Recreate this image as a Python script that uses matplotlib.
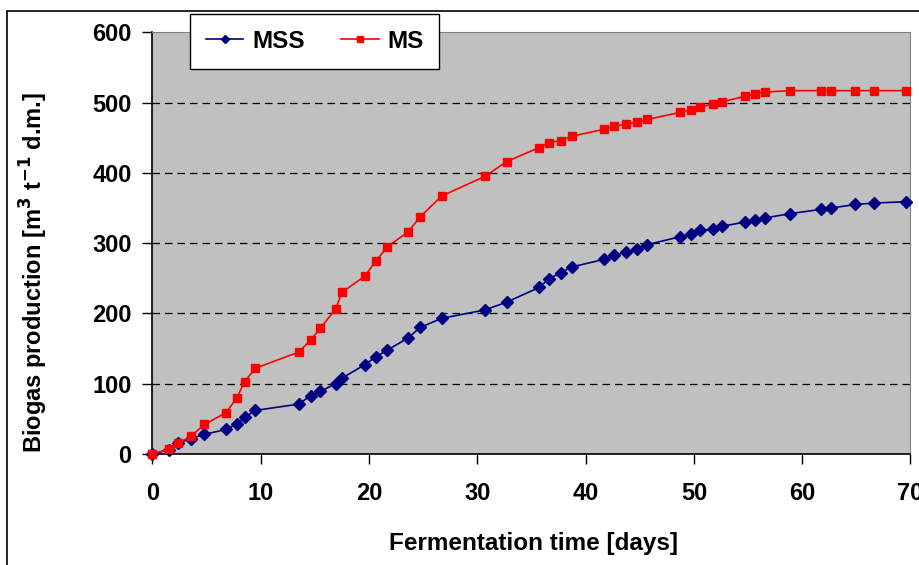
import matplotlib.pyplot as plt
from matplotlib.patches import Rectangle
from matplotlib.lines import Line2D

plt.rcParams['font.family'] = ['Liberation Sans', 'DejaVu Sans']
plt.rcParams['font.weight'] = 'bold'

# fermentation time [days]
days = [0, 1.5, 2.4, 3.6, 4.8, 6.8, 7.8, 8.5, 9.5, 13.5, 14.6, 15.5, 16.9, 17.5,
        19.6, 20.6, 21.7, 23.6, 24.7, 26.7, 30.7, 32.7, 35.7, 36.6, 37.7, 38.7,
        41.7, 42.6, 43.7, 44.7, 45.7, 48.7, 49.7, 50.6, 51.8, 52.6, 54.7, 55.6,
        56.6, 58.9, 61.7, 62.7, 64.9, 66.6, 69.6]

# biogas production [m3 t-1 d.m.]
mss = [0, 6, 16, 22, 28, 35, 43, 52, 62, 71, 83, 89, 100, 108,
       127, 138, 148, 165, 180, 193, 205, 216, 237, 249, 258, 266,
       277, 283, 287, 291, 298, 309, 313, 318, 320, 324, 330, 333,
       336, 342, 348, 350, 355, 357, 359]
ms = [0, 7, 15, 26, 42, 59, 80, 103, 122, 145, 162, 179, 206, 230,
      253, 274, 295, 316, 337, 367, 395, 416, 436, 443, 446, 452,
      462, 466, 469, 472, 476, 486, 490, 494, 498, 501, 509, 512,
      515, 517, 517, 517, 517, 517, 517]

x_ticks = [0, 10, 20, 30, 40, 50, 60, 70]
y_ticks = [0, 100, 200, 300, 400, 500, 600]

fig = plt.figure(figsize=(9.2, 5.65), dpi=100)
# outer chart border (cut off at right and bottom like the original)
fig.patches.append(Rectangle((7.5 / 920, -0.05), 1.1, 1 - 11 / 565 + 0.05,
                             transform=fig.transFigure, fill=False,
                             edgecolor='black', linewidth=1.2))

ax = fig.add_axes([152.5 / 920, 1 - 454 / 565, 758 / 920, 421.7 / 565])
ax.set_facecolor('#c0c0c0')

ax.plot(days, mss, '-D', color='#000080', markersize=6, linewidth=1.2,
        label='MSS', clip_on=False, zorder=3)
ax.plot(days, ms, '-s', color='#ff0000', markersize=6, linewidth=1.2,
        label='MS', clip_on=False, zorder=4)

ax.set_xlim(0, 70)
ax.set_ylim(0, 600)
ax.set_xticks(x_ticks)
ax.set_yticks(y_ticks)
for v in y_ticks[1:-1]:
    ax.axhline(v, color='black', linestyle=(0, (6, 4)), linewidth=0.9, zorder=1)

ax.spines['top'].set_color('#808080')
ax.spines['right'].set_color('#808080')
ax.spines['left'].set_linewidth(1.2)
ax.spines['bottom'].set_linewidth(1.2)
ax.tick_params(axis='both', direction='out', length=7, width=1, labelsize=17,
               color='black')
ax.tick_params(axis='x', pad=13)
ax.tick_params(axis='y', pad=8)

ax.set_xlabel('Fermentation time [days]', fontsize=17.5, fontweight='bold')
ax.xaxis.set_label_coords(0.503, -0.185)
ax.set_ylabel('Biogas production [m$^\\mathbf{3}$ t$^\\mathbf{-1}$ d.m.]',
              fontsize=17, fontweight='bold')
ax.yaxis.set_label_coords(-0.135, 0.43)

handles = [Line2D([], [], color='#000080', marker='D', markersize=4.5, linewidth=1.2),
           Line2D([], [], color='#ff0000', marker='s', markersize=4.5, linewidth=1.2)]
leg = fig.legend(handles, ['MSS', 'MS'], loc='upper left',
                 bbox_to_anchor=(190 / 920, 1 - 14 / 565), ncol=2,
                 fontsize=17.5, frameon=True, fancybox=False, framealpha=1,
                 edgecolor='black', handlelength=1.55, columnspacing=1.5,
                 borderpad=0.65, handletextpad=0.35, borderaxespad=0)
leg.get_frame().set_linewidth(1.0)
for t in leg.get_texts():
    t.set_fontweight('bold')

fig.savefig('out.png', dpi=100)
